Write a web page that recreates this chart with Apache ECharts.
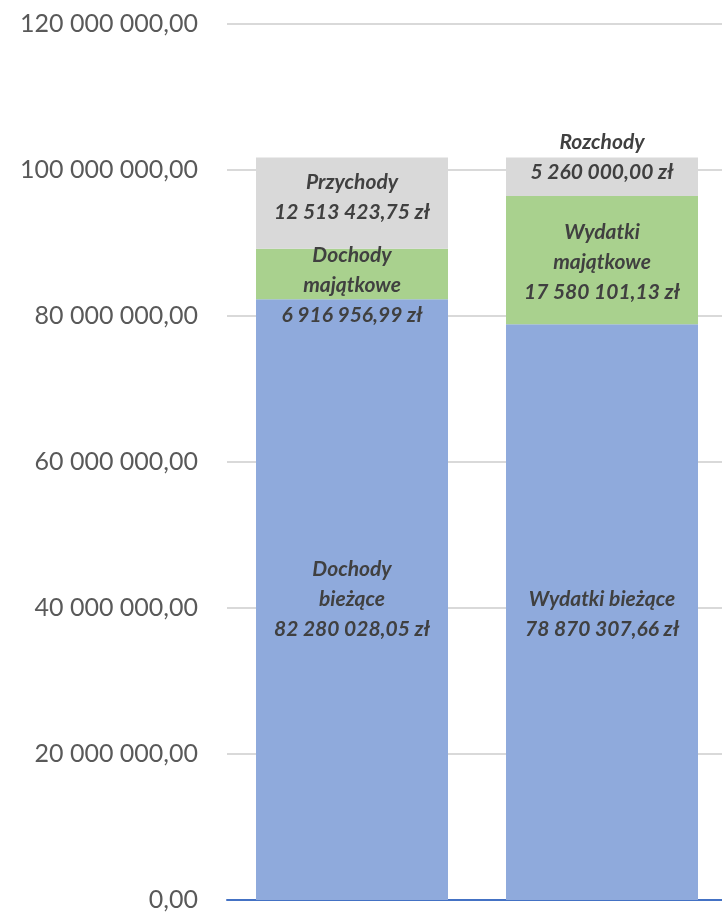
<!DOCTYPE html>
<html>
<head>
<meta charset="utf-8">
<script src="https://cdn.jsdelivr.net/npm/echarts@6/dist/echarts.min.js"></script>
<style>
  html, body { margin: 0; padding: 0; background: #fff; }
  #chart { width: 722px; height: 915px; }
</style>
</head>
<body>
<div id="chart"></div>
<script>
const categories = ['Dochody', 'Wydatki'];
const currentValues = [82280028.05, 78870307.66];
const assetValues = [6916956.99, 17580101.13];
const financeValues = [12513423.75, 5260000.00];
const currentNames = ['Dochody\nbieżące', 'Wydatki bieżące'];
const assetNames = ['Dochody\nmajątkowe', 'Wydatki\nmajątkowe'];
const financeNames = ['Przychody', 'Rozchody'];

function formatPl(v) {
    const parts = v.toFixed(2).split('.');
    return parts[0].replace(/\B(?=(\d{3})+(?!\d))/g, ' ') + ',' + parts[1];
}

function buildData(values, names, offsets) {
    return values.map(function(v, i) {
        return {
            value: v,
            label: {
                formatter: names[i] + '\n' + formatPl(v) + ' zł',
                offset: [0, offsets[i]]
            }
        };
    });
}

const labelStyle = {
    show: true,
    position: 'inside',
    color: '#404040',
    fontFamily: 'Lato',
    fontSize: 21,
    fontWeight: 'bold',
    fontStyle: 'italic',
    lineHeight: 30
};

var chart = echarts.init(document.getElementById('chart'));

option = {
    animation: false,
    grid: { left: 227, width: 500, top: 24, bottom: 15, outerBoundsMode: 'none' },
    xAxis: {
        type: 'category',
        data: categories,
        axisLine: { show: true, lineStyle: { color: '#4472C4', width: 2 } },
        axisTick: { show: false },
        axisLabel: { show: false }
    },
    yAxis: {
        type: 'value',
        min: 0,
        max: 120000000,
        interval: 20000000,
        axisLine: { show: false },
        axisTick: { show: false },
        axisLabel: {
            color: '#595959',
            fontFamily: 'Lato',
            fontSize: 25,
            margin: 29,
            formatter: function(v) { return formatPl(v); }
        },
        splitLine: { lineStyle: { color: '#d9d9d9', width: 2 } }
    },
    series: [
        {
            type: 'bar',
            stack: 'total',
            barWidth: 192,
            itemStyle: { color: '#8FAADC' },
            label: labelStyle,
            data: buildData(currentValues, currentNames, [0, 2])
        },
        {
            type: 'bar',
            stack: 'total',
            itemStyle: { color: '#A9D18E' },
            label: labelStyle,
            data: buildData(assetValues, assetNames, [11, 2])
        },
        {
            type: 'bar',
            stack: 'total',
            itemStyle: { color: '#D9D9D9' },
            label: labelStyle,
            data: buildData(financeValues, financeNames, [-6, -19])
        }
    ]
};

chart.setOption(option);
</script>
</body>
</html>
